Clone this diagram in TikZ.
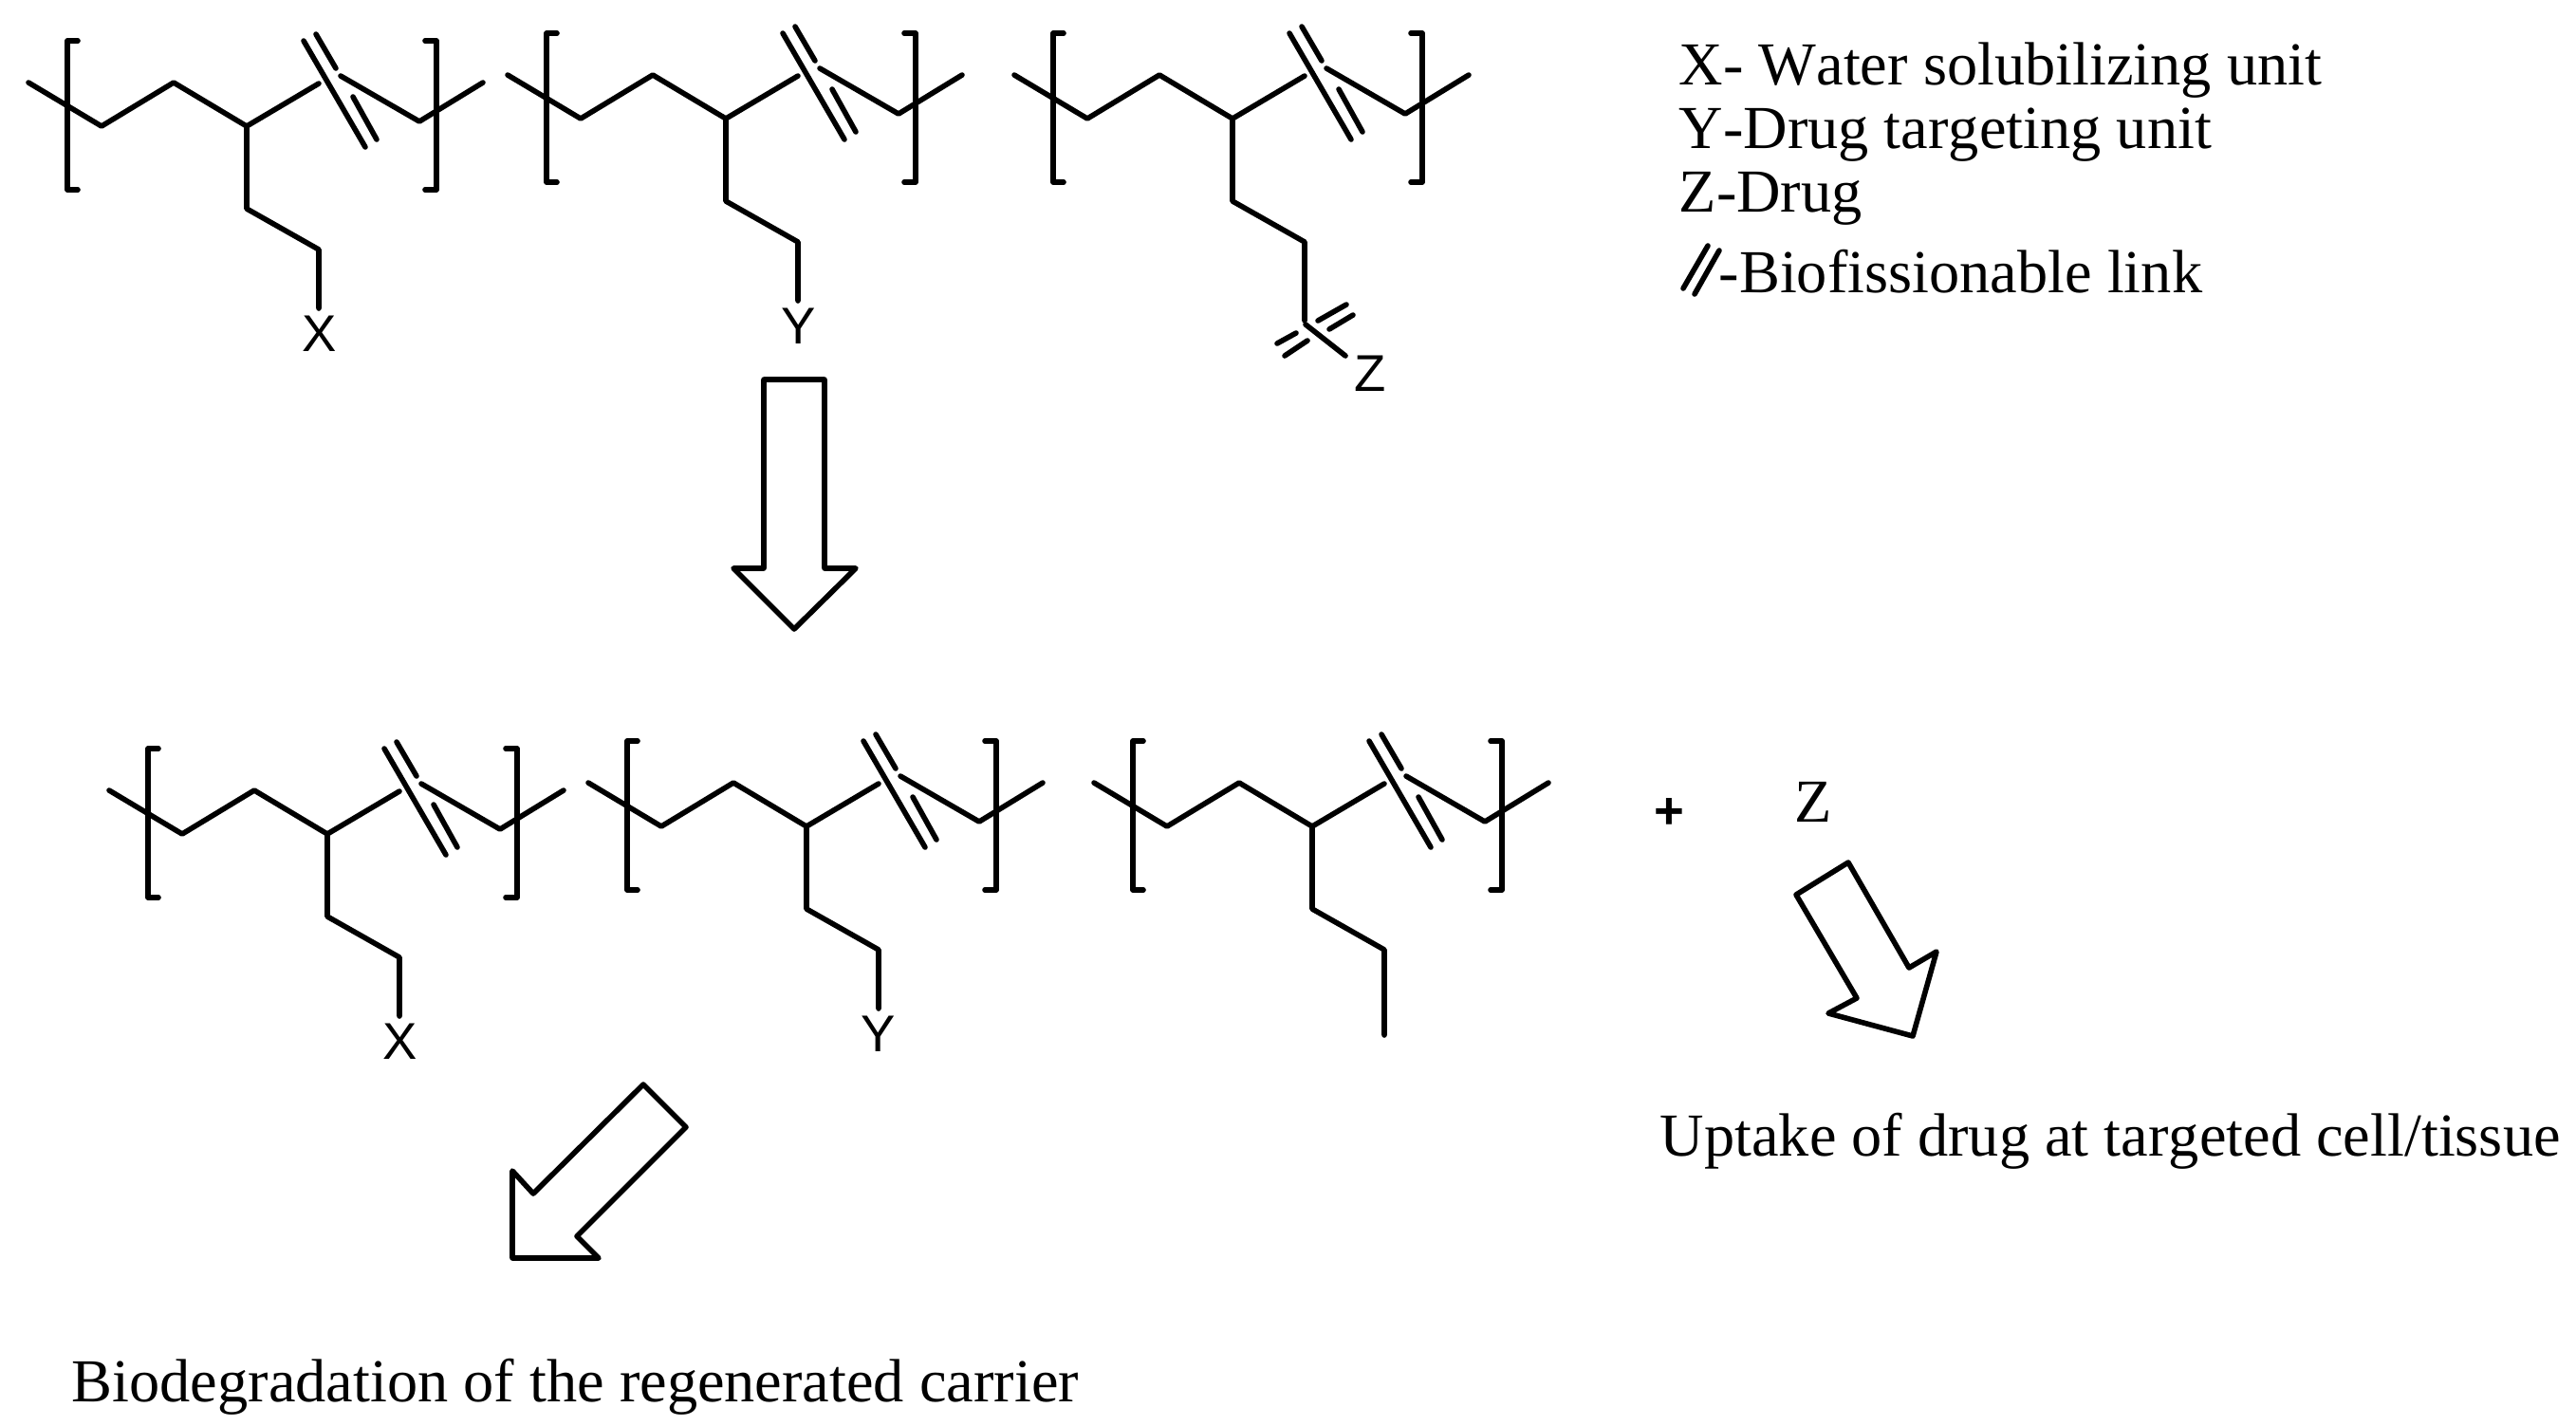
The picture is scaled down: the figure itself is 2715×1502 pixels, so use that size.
\documentclass[tikz,border=0pt]{standalone}
\usepackage{fontspec}
\setmainfont[Kerning=Off,Ligatures=NoCommon]{Liberation Serif}
\newfontfamily\atomfont{Liberation Sans}
\usepackage{tikz}
\usetikzlibrary{calc}

\tikzset{
    bond/.style={line width=0.056cm, line cap=round, line join=round},
    atomlabel/.style={inner sep=0pt, font=\atomfont\fontsize{15.5}{18}\selectfont},
    caption/.style={inner sep=0pt, anchor=base west, font=\fontsize{18.3}{22}\selectfont},
}

% repeating unit: #1 = shift, #2 = prefix of the coordinates, #3 = end of the side chain
\newcommand{\polyunit}[3]{%
    \begin{scope}[shift={#1}]
        \coordinate (#2A) at (30,87);
        \coordinate (#2B) at (107,133);
        \coordinate (#2C) at (183,87);
        \coordinate (#2D) at (260,133);
        \coordinate (#2E) at (336,88);
        \coordinate (#2F) at (359,80);
        \coordinate (#2G) at (442,128);
        \coordinate (#2H) at (509,87);
        \coordinate (#2I) at (260,220);
        \coordinate (#2J) at (336,263);
        \coordinate (#2S) at (336,#3);
        \draw[bond] (#2A) -- (#2B) -- (#2C) -- (#2D) -- (#2E);
        \draw[bond] (#2F) -- (#2G) -- (#2H);
        \draw[bond] (#2D) -- (#2I) -- (#2J) -- (#2S);
        \draw[bond] (82,43) -- (71,43) -- (71,200) -- (82,200);
        \draw[bond] (448,43) -- (460,43) -- (460,200) -- (448,200);
        \draw[bond] (320,43) -- (385,155);
        \draw[bond] (333,36) -- (354,72);
        \draw[bond] (372,102) -- (397,147);
    \end{scope}}

\begin{document}
\begin{tikzpicture}[x=0.01cm,y=-0.01cm]
    \useasboundingbox (0,0) rectangle (2715,1502);

    \polyunit{(0,0)}{ua}{325}
    \polyunit{(505,-8)}{ub}{325}
    \polyunit{(1039,-8)}{uc}{346}
    \polyunit{(85,746)}{ud}{325}
    \polyunit{(590,738)}{ue}{325}
    \polyunit{(1123,738)}{uf}{353}

    \node[atomlabel] (xtop) at ($(uaS)+(1,27)$) {X};
    \node[atomlabel] (ytop) at ($(ubS)+(1,27)$) {Y};
    \node[atomlabel] (xlow) at ($(udS)+(1,27)$) {X};
    \node[atomlabel] (ylow) at ($(ueS)+(0,27)$) {Y};

    % link to the drug
    \draw[bond] (1376,342) -- (1418,375);
    \draw[bond] (1389,338) -- (1419,321);
    \draw[bond] (1401,347) -- (1426,332);
    \draw[bond] (1346,362) -- (1366,351);
    \draw[bond] (1354,375) -- (1378,359);
    \node[atomlabel] (ztop) at (1444,394) {Z};

    % block arrows
    \draw[bond] (805,400) -- (869,400) -- (869,599) -- (902,599) -- (837,663) -- (773,599) -- (805,599) -- cycle;
    \draw[bond] (1948,909) -- (2012,1020) -- (2041,1003) -- (2016,1092) -- (1927,1068) -- (1957,1052) -- (1893,943) -- cycle;
    \draw[bond] (678,1143) -- (723,1188) -- (608,1303) -- (631,1326) -- (540,1326) -- (540,1234) -- (562,1258) -- cycle;

    \node[atomlabel, font=\atomfont\bfseries\fontsize{15.5}{18}\selectfont] (plus) at (1759,857) {+};
    \node[caption, anchor=center] (zfree) at (1911,845) {Z};

    % legend
    \node[caption] (xlegend) at (1769,89) {X- Water solubilizing unit};
    \node[caption] (ylegend) at (1769,156) {Y-Drug targeting unit};
    \node[caption] (zlegend) at (1769,223) {Z-Drug};
    \draw[bond] (1774,304) -- (1800,259);
    \draw[bond] (1786,310) -- (1812,264);
    \node[caption] (linklegend) at (1811,308) {-Biofissionable link};

    \node[caption] (uptake) at (1749,1218) {Uptake of drug at targeted cell/tissue};
    \node[caption] (carrier) at (75,1477) {Biodegradation of the regenerated carrier};
\end{tikzpicture}
\end{document}
